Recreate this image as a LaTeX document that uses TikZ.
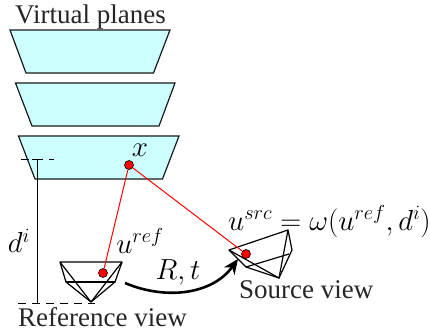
\RequirePackage{fix-cm}
\documentclass[tikz,border=0pt]{standalone}
\usepackage{amsmath}
\usepackage{fontspec}
\setmainfont{Liberation Serif}
\usetikzlibrary{arrows.meta,positioning}
\definecolor{planecyan}{HTML}{CCFFFF}
\tikzset{
  plane/.style={draw=black!90, fill=planecyan, line width=1.2pt},
  comment/.style={rectangle, text centered, inner sep=0pt, font=\fontsize{27}{29}\selectfont, text=black!85},
  mathlabel/.style={rectangle, inner sep=0pt, font=\fontsize{29}{31}\selectfont},
  camera/.style={line width=1.2pt, line join=round},
  ray/.style={red, line width=1pt},
  reddot/.style={circle, draw=black, fill=red, line width=0.6pt, minimum size=9pt, inner sep=0pt},
  guide/.style={line width=1pt, dash pattern=on 8pt off 6pt}
}
\begin{document}
\begin{tikzpicture}[x=1pt,y=-1pt]
\useasboundingbox (0,0) rectangle (430,335);

\node [comment, anchor=base west] (title) at (15,23) {Virtual planes};

\draw [plane] (10,30) -- (170,30) -- (153.5,73) -- (26,73) -- cycle;
\draw [plane] (15.5,83) -- (175,83) -- (159,126) -- (32,126) -- cycle;
\draw [plane] (18.5,136) -- (179,136) -- (162.5,179) -- (35,179) -- cycle;

% depth
\coordinate (dtop) at (37,159);
\coordinate (dbot) at (37,303);
\draw [line width=1pt] (dtop) -- (dbot);
\draw [line width=1pt] (32,159) -- (42,159);
\draw [guide] (21,159) -- (54,159);
\draw [guide] (18,303) -- (95,303);
\node [mathlabel] (dlabel) at (19,241) {$d^i$};

% reference camera
\coordinate (r1) at (60,262);
\coordinate (r2) at (122,262);
\coordinate (r3) at (115,282);
\coordinate (r4) at (66,282);
\coordinate (r5) at (91,302);
\draw [camera] (r1) -- (r2) -- (r5) -- cycle;
\draw [camera] (r1) -- (r4) -- (r5) -- (r3) -- (r2);
\draw [camera] (r4) -- (r3);

% source camera
\coordinate (s1) at (229,250);
\coordinate (s2) at (288,230);
\coordinate (s3) at (292,250);
\coordinate (s4) at (279,278);
\coordinate (s5) at (246,267);
\coordinate (s6) at (289,254);
\draw [camera] (s1) -- (s2) -- (s3) -- (s4) -- cycle;
\draw [camera] (s2) -- (s4) -- (s5) -- (s1);
\draw [camera] (s5) -- (s6);

% rays
\node [reddot] (x) at (129,165) {};
\node [reddot] (uref) at (103,273) {};
\node [reddot] (usrc) at (246,254) {};
\draw [ray] (x) -- (uref);
\draw [ray] (x) -- (usrc);

% motion
\coordinate (mstart) at (125,283);
\coordinate (mend) at (238,259);
\draw [line width=2.6pt, -{Stealth[length=15pt,width=13pt]}] (mstart) .. controls (165,300) and (212,295) .. (mend);

\node [mathlabel] (xlabel) at (140,150) {$x$};
\node [mathlabel] (ureflabel) at (140,241) {$u^{ref}$};
\node [mathlabel] (rtlabel) at (178,272) {$R,t$};
\node [mathlabel, anchor=base west] (usrclabel) at (228,230) {$u^{src}=\omega(u^{ref},d^i)$};
\node [comment, anchor=base west] (srcname) at (239,298) {Source view};
\node [comment, anchor=base west] (refname) at (18,326) {Reference view};
\end{tikzpicture}
\end{document}
